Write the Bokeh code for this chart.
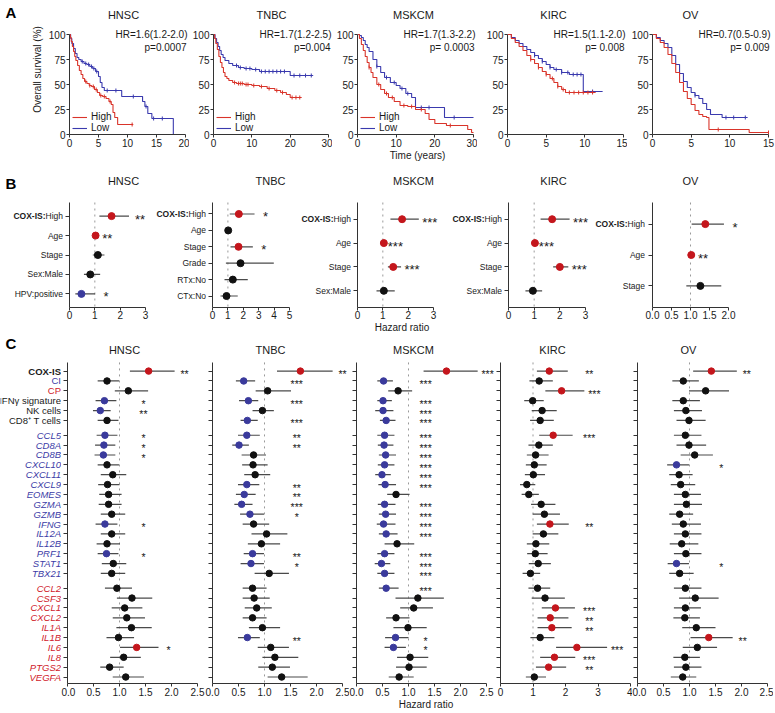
from bokeh.plotting import figure
from bokeh.layouts import row, column
from bokeh.models import (Range1d, Label, FixedTicker, Legend, LegendItem,
                          NumeralTickFormatter)
from bokeh.core.properties import value
from bokeh.embed import file_html
from bokeh.resources import INLINE

# ======================= DATA =======================
cancers = ["HNSC", "TNBC", "MSKCM", "KIRC", "OV"]

# ---- Panel A : Kaplan-Meier curves (time in years, survival in %) ----
km_time_max = [20, 30, 30, 15, 15]
km_ticks = [[0, 5, 10, 15, 20], [0, 10, 20, 30], [0, 10, 20, 30],
            [0, 5, 10, 15], [0, 5, 10, 15]]
km_surv_ticks = [0, 25, 50, 75, 100]
km_hr_text = ["HR=1.6(1.2-2.0)", "HR=1.7(1.2-2.5)", "HR=1.7(1.3-2.2)",
              "HR=1.5(1.1-2.0)", "HR=0.7(0.5-0.9)"]
km_p_text = ["p=0.0007", "p=0.004", "p= 0.0003", "p= 0.008", "p= 0.009"]

hnsc_high_t = [0, 0.15, 0.3, 0.5, 0.7, 0.9, 1.1, 1.4, 1.7, 2.0, 2.3, 2.6, 3.0, 3.4,
               3.8, 4.3, 4.8, 5.2, 5.7, 6.3, 6.8, 7.2, 7.5, 7.8, 8.3, 11.0]
hnsc_high_s = [100, 97, 93, 88, 83, 78, 74, 69, 64, 60, 56, 53, 51, 49,
               48, 45, 42, 39, 38, 36, 33, 30, 22, 17, 10, 10]
hnsc_high_cens = [2.8, 3.5, 4.1, 4.6, 5.4, 6.0, 7.0, 10.8]
hnsc_low_t = [0, 0.2, 0.4, 0.7, 1.0, 1.3, 1.6, 2.0, 2.5, 3.0, 3.5, 4.0, 4.5, 5.0,
              5.3, 5.6, 6.0, 9.0, 12.6, 13.0, 13.5, 14.2, 17.9]
hnsc_low_s = [100, 96, 91, 86, 81, 77, 75, 73, 71, 70, 68, 66, 63, 58,
              52, 47, 44, 38, 33, 28, 21, 16, 0]
hnsc_low_cens = [2.2, 2.8, 3.3, 3.8, 4.2, 4.7, 6.5, 8.0, 11.0, 13.2, 14.5, 16.0]

tnbc_high_t = [0, 0.3, 0.6, 1.0, 1.4, 1.8, 2.2, 2.6, 3.0, 3.5, 4.0, 5.0, 6.0, 8.0,
               10.0, 12.0, 14.0, 16.0, 17.5, 19.0, 20.0, 23.0]
tnbc_high_s = [100, 96, 91, 85, 78, 72, 67, 62, 58, 56, 54, 52, 51, 50,
               49, 48, 46, 44, 42, 40, 37, 37]
tnbc_high_cens = [5.5, 6.5, 7.0, 7.5, 8.5, 9.0, 10.5, 12.5, 14.5, 16.5, 18.0,
                  20.5, 21.5, 22.5]
tnbc_low_t = [0, 0.4, 0.8, 1.2, 1.6, 2.0, 2.5, 3.0, 4.0, 5.0, 6.5, 8.0, 10.0,
              12.0, 16.0, 20.0, 26.0]
tnbc_low_s = [100, 96, 92, 88, 84, 80, 77, 74, 71, 69, 67, 66, 65,
              63, 63, 59, 59]
tnbc_low_cens = [6.0, 7.0, 8.5, 9.5, 11.0, 12.5, 13.5, 14.5, 15.5, 16.5, 17.5,
                 18.5, 21.0, 22.5, 24.0, 25.5]

mskcm_high_t = [0, 0.5, 1.0, 1.5, 2.0, 2.5, 3.0, 3.5, 4.0, 5.0, 6.0, 7.0, 8.0, 9.5,
                11.0, 13.0, 15.0, 17.5, 18.5, 20.0, 23.0, 26.0, 28.5, 29.5, 30.0]
mskcm_high_s = [100, 96, 90, 84, 78, 72, 67, 62, 57, 50, 45, 41, 37, 33,
                29, 28, 25, 21, 15, 11, 9, 9, 5, 2, 2]
mskcm_high_cens = [3.0, 5.5, 7.5, 9.0, 12.0, 14.0, 16.5, 24.0]
mskcm_low_t = [0, 0.5, 1.0, 1.5, 2.0, 2.5, 3.0, 4.0, 5.0, 6.0, 7.0, 8.5, 10.0,
               11.0, 12.5, 14.0, 15.0, 22.5, 30.0]
mskcm_low_s = [100, 99, 97, 94, 90, 87, 83, 75, 68, 62, 57, 52, 49,
               46, 41, 37, 27, 17, 17]
mskcm_low_cens = [5.0, 7.5, 9.5, 11.5, 13.0, 16.5, 18.5, 25.0]

kirc_high_t = [0, 0.5, 1.0, 1.5, 2.0, 2.5, 3.0, 3.5, 4.0, 4.5, 5.0, 5.5, 6.0, 6.5,
               7.0, 7.5, 11.4]
kirc_high_s = [100, 96, 92, 88, 84, 79, 75, 71, 67, 63, 60, 56, 52, 48,
               45, 42, 42]
kirc_high_cens = [3.0, 4.0, 5.0, 5.8, 6.5, 7.2, 8.0, 8.6, 9.2, 9.8, 10.4, 11.0]
kirc_low_t = [0, 0.5, 1.0, 1.5, 2.0, 2.5, 3.0, 3.5, 4.0, 4.5, 5.0, 5.5, 6.0, 7.0,
              8.0, 9.8, 12.3]
kirc_low_s = [100, 97, 94, 91, 88, 85, 82, 79, 76, 73, 70, 67, 65, 62,
              60, 43, 43]
kirc_low_cens = [3.5, 4.5, 5.5, 6.3, 7.0, 7.8, 8.5, 9.0, 9.5, 11.0]

ov_high_t = [0, 0.5, 1.0, 1.5, 2.0, 2.5, 3.0, 3.5, 4.0, 4.5, 5.0, 5.5, 6.0, 6.5,
             7.0, 7.3, 12.5, 15.0]
ov_high_s = [100, 96, 92, 87, 80, 71, 62, 52, 43, 36, 30, 24, 20, 18,
             17, 5, 2, 2]
ov_high_cens = [8.5, 15.0]
ov_low_t = [0, 0.5, 1.0, 1.5, 2.0, 2.5, 3.0, 3.5, 4.0, 4.5, 5.0, 5.5, 6.0, 6.5,
            7.0, 7.5, 9.0, 12.3]
ov_low_s = [100, 97, 94, 91, 87, 79, 70, 61, 53, 47, 42, 39, 36, 31,
            25, 20, 17, 17]
ov_low_cens = [5.5, 9.5, 10.5, 12.0]

# ---- Panel B : multivariable Cox models ----
b_hnsc_vars = ["COX-IS:High", "Age", "Stage", "Sex:Male", "HPV:positive"]
b_hnsc_hr = [1.66, 1.03, 1.12, 0.82, 0.47]
b_hnsc_lo = [1.18, 1.00, 0.92, 0.57, 0.23]
b_hnsc_hi = [2.35, 1.06, 1.38, 1.21, 1.01]
b_hnsc_sig = ["**", "**", "", "", "*"]

b_tnbc_vars = ["COX-IS:High", "Age", "Stage", "Grade", "RTx:No", "CTx:No"]
b_tnbc_hr = [1.71, 1.02, 1.69, 1.82, 1.32, 0.91]
b_tnbc_lo = [1.12, 0.99, 1.17, 0.87, 0.78, 0.52]
b_tnbc_hi = [2.73, 1.05, 2.62, 3.98, 2.29, 1.64]
b_tnbc_sig = ["*", "", "*", "", "", ""]

b_mskcm_vars = ["COX-IS:High", "Age", "Stage", "Sex:Male"]
b_mskcm_hr = [1.76, 1.04, 1.41, 1.04]
b_mskcm_lo = [1.30, 1.02, 1.20, 0.75]
b_mskcm_hi = [2.42, 1.06, 1.72, 1.47]
b_mskcm_sig = ["***", "***", "***", ""]

b_kirc_vars = ["COX-IS:High", "Age", "Stage", "Sex:Male"]
b_kirc_hr = [1.70, 1.03, 2.00, 0.95]
b_kirc_lo = [1.25, 1.01, 1.74, 0.66]
b_kirc_hi = [2.38, 1.05, 2.33, 1.31]
b_kirc_sig = ["***", "***", "***", ""]

b_ov_vars = ["COX-IS:High", "Age", "Stage"]
b_ov_hr = [1.39, 1.02, 1.26]
b_ov_lo = [1.03, 1.00, 0.89]
b_ov_hi = [1.88, 1.04, 1.81]
b_ov_sig = ["*", "**", ""]

b_ticks = [[0, 1, 2, 3], [0, 1, 2, 3, 4, 5], [0, 1, 2, 3], [0, 1, 2, 3],
           [0, 0.5, 1.0, 1.5, 2.0]]

# ---- Panel C : univariable Cox, signatures and genes ----
c_signatures = ["COX-IS", "CI", "CP", "IFNγ signature", "NK cells", "CD8⁺ T cells"]
c_immune_genes = ["CCL5", "CD8A", "CD8B", "CXCL10", "CXCL11", "CXCL9", "EOMES", "GZMA",
                  "GZMB", "IFNG", "IL12A", "IL12B", "PRF1", "STAT1", "TBX21"]
c_inflam_genes = ["CCL2", "CSF3", "CXCL1", "CXCL2", "IL1A", "IL1B", "IL6", "IL8",
                  "PTGS2", "VEGFA"]

c_hnsc_hr = [1.56, 0.76, 1.17, 0.71, 0.63, 0.76,
             0.72, 0.70, 0.69, 0.76, 0.87, 0.77, 0.79, 0.79, 0.85, 0.72, 0.85, 0.76, 0.75, 0.88, 0.85,
             0.95, 1.24, 1.10, 1.14, 1.23, 0.98, 1.33, 1.08, 0.81, 1.12]
c_hnsc_lo = [1.20, 0.58, 0.91, 0.54, 0.49, 0.58,
             0.56, 0.53, 0.52, 0.58, 0.64, 0.59, 0.61, 0.60, 0.64, 0.54, 0.64, 0.56, 0.58, 0.66, 0.64,
             0.72, 0.95, 0.85, 0.87, 0.94, 0.75, 1.01, 0.82, 0.63, 0.87]
c_hnsc_hi = [2.06, 0.99, 1.55, 0.94, 0.83, 0.98,
             0.96, 0.92, 0.92, 0.99, 1.13, 1.00, 1.04, 1.04, 1.11, 0.96, 1.11, 1.01, 0.98, 1.13, 1.11,
             1.24, 1.63, 1.44, 1.49, 1.62, 1.28, 1.75, 1.41, 1.08, 1.47]
c_hnsc_sig = ["**", "", "", "*", "**", "",
              "*", "*", "*", "", "", "", "", "", "", "*", "", "", "*", "", "",
              "", "", "", "", "", "", "*", "", "", ""]

c_tnbc_hr = [1.69, 0.60, 1.06, 0.69, 0.96, 0.67,
             0.66, 0.51, 0.79, 0.78, 0.82, 0.66, 0.61, 0.56, 0.72, 0.79, 1.04, 0.94, 0.77, 0.74, 1.09,
             0.77, 0.80, 0.85, 0.77, 0.96, 0.67, 1.12, 1.20, 1.15, 1.33]
c_tnbc_lo = [1.24, 0.45, 0.83, 0.51, 0.77, 0.54,
             0.49, 0.38, 0.56, 0.57, 0.61, 0.49, 0.45, 0.42, 0.53, 0.58, 0.75, 0.68, 0.60, 0.54, 0.81,
             0.58, 0.58, 0.62, 0.58, 0.70, 0.49, 0.87, 0.96, 0.88, 1.06]
c_tnbc_hi = [2.31, 0.82, 1.51, 0.88, 1.18, 0.87,
             0.91, 0.70, 1.03, 1.06, 1.11, 0.90, 0.83, 0.77, 0.99, 1.09, 1.44, 1.30, 0.99, 0.99, 1.47,
             1.04, 1.10, 1.14, 1.04, 1.30, 0.91, 1.47, 1.65, 1.49, 1.83]
c_tnbc_sig = ["**", "***", "", "***", "", "***",
              "**", "**", "", "", "", "**", "**", "***", "*", "", "", "", "**", "*", "",
              "", "", "", "", "", "**", "", "", "", ""]

c_mskcm_hr = [1.73, 0.52, 0.80, 0.51, 0.51, 0.57,
              0.54, 0.53, 0.56, 0.54, 0.49, 0.55, 0.76, 0.54, 0.56, 0.52, 0.57, 0.78, 0.54, 0.48, 0.54,
              0.57, 1.18, 1.10, 0.76, 0.99, 0.75, 0.71, 1.03, 1.01, 0.82]
c_mskcm_lo = [1.29, 0.40, 0.61, 0.40, 0.36, 0.45,
              0.40, 0.41, 0.43, 0.41, 0.36, 0.42, 0.59, 0.41, 0.43, 0.39, 0.43, 0.54, 0.40, 0.35, 0.40,
              0.43, 0.75, 0.84, 0.57, 0.71, 0.55, 0.54, 0.78, 0.76, 0.62]
c_mskcm_hi = [2.33, 0.70, 1.07, 0.68, 0.71, 0.75,
              0.73, 0.71, 0.76, 0.73, 0.66, 0.76, 1.02, 0.75, 0.76, 0.75, 0.79, 1.11, 0.73, 0.65, 0.73,
              0.81, 1.68, 1.47, 1.02, 1.35, 1.00, 0.95, 1.38, 1.35, 1.10]
c_mskcm_sig = ["***", "***", "", "***", "***", "***",
               "***", "***", "***", "***", "***", "***", "", "***", "***", "***", "***", "", "***", "***", "***",
               "***", "", "", "", "", "*", "*", "", "", ""]

c_kirc_hr = [1.50, 1.19, 1.88, 0.99, 1.28, 1.22,
             1.62, 1.18, 1.08, 1.04, 1.01, 0.81, 0.87, 1.25, 1.35, 1.52, 1.32, 1.09, 1.07, 1.16, 0.92,
             1.14, 1.37, 1.69, 1.53, 1.58, 1.22, 2.35, 1.66, 1.48, 1.04]
c_kirc_lo = [1.12, 0.89, 1.38, 0.73, 0.96, 0.91,
             1.19, 0.86, 0.81, 0.78, 0.75, 0.60, 0.65, 0.94, 0.99, 1.12, 0.99, 0.81, 0.82, 0.87, 0.68,
             0.86, 0.96, 1.27, 1.14, 1.14, 0.92, 1.71, 1.22, 1.09, 0.78]
c_kirc_hi = [2.07, 1.61, 2.58, 1.33, 1.73, 1.64,
             2.22, 1.61, 1.48, 1.42, 1.37, 1.07, 1.18, 1.69, 1.83, 2.10, 1.78, 1.50, 1.45, 1.55, 1.22,
             1.53, 1.98, 2.29, 2.09, 2.19, 1.66, 3.28, 2.30, 2.02, 1.40]
c_kirc_sig = ["**", "", "***", "", "", "",
              "***", "", "", "", "", "", "", "", "", "**", "", "", "", "", "",
              "", "", "***", "**", "**", "", "***", "***", "**", ""]

c_ov_hr = [1.42, 0.88, 1.31, 0.88, 0.93, 0.99,
           0.92, 0.99, 1.10, 0.75, 0.80, 0.83, 0.92, 0.94, 0.81, 0.88, 0.92, 0.85, 0.93, 0.75, 0.81,
           0.92, 1.11, 0.92, 0.91, 1.13, 1.37, 1.15, 0.91, 0.93, 0.87]
c_ov_lo = [1.07, 0.67, 0.99, 0.67, 0.70, 0.75,
           0.70, 0.75, 0.83, 0.57, 0.61, 0.64, 0.70, 0.70, 0.61, 0.66, 0.70, 0.62, 0.70, 0.58, 0.61,
           0.70, 0.80, 0.70, 0.69, 0.86, 1.02, 0.87, 0.69, 0.70, 0.64]
c_ov_hi = [1.91, 1.18, 1.76, 1.20, 1.24, 1.31,
           1.23, 1.32, 1.45, 0.99, 1.06, 1.11, 1.22, 1.24, 1.07, 1.22, 1.23, 1.17, 1.23, 0.99, 1.08,
           1.23, 1.56, 1.22, 1.20, 1.50, 1.83, 1.53, 1.20, 1.23, 1.13]
c_ov_sig = ["**", "", "", "", "", "",
            "", "", "", "*", "", "", "", "", "", "", "", "", "", "*", "",
            "", "", "", "", "", "**", "", "", "", ""]

c_ticks = [[0, 0.5, 1.0, 1.5, 2.0, 2.5], [0, 0.5, 1.0, 1.5, 2.0, 2.5],
           [0, 0.5, 1.0, 1.5, 2.0, 2.5], [0, 1, 2, 3, 4], [0, 0.5, 1.0, 1.5, 2.0, 2.5]]

# ======================= STYLE =======================
FONT = "Liberation Sans"
TXT = "#1a1a1a"
AXC = "#333333"
KM_RED = "#d9342a"
KM_BLUE = "#3a3aae"
DOT_RED = "#c4161c"
DOT_BLUE = "#3a3a9c"
DOT_BLACK = "#111111"
LBL_BLUE = "#3c3ca6"
LBL_RED = "#d0202a"
CI_COL = "#4a4a4a"
DOT_LINE = "#9a9a9a"


def make_fig(left, frame_w, right, top, frame_h, bottom, xr, yr, axes=True):
    kw = {}
    if not axes:
        kw = dict(x_axis_type=None, y_axis_type=None)
    p = figure(width=left + frame_w + right, height=top + frame_h + bottom,
               x_range=xr, y_range=yr, toolbar_location=None, tools="",
               output_backend="svg", min_border=0, min_border_left=left,
               min_border_right=right, min_border_top=top, min_border_bottom=bottom, **kw)
    p.title = None
    p.outline_line_color = None
    if axes:
        p.xgrid.visible = False
        p.ygrid.visible = False
    return p


def style_axis(ax, size="10px", tick_out=3, standoff=1):
    ax.axis_line_color = AXC
    ax.axis_line_width = 1
    ax.major_tick_line_color = AXC
    ax.major_tick_out = tick_out
    ax.major_tick_in = 0
    ax.minor_tick_line_color = None
    ax.major_label_text_font = FONT
    ax.major_label_text_font_size = size
    ax.major_label_text_color = TXT
    ax.major_label_standoff = standoff
    ax.axis_label_text_font = FONT
    ax.axis_label_text_font_size = "10px"
    ax.axis_label_text_font_style = "normal"
    ax.axis_label_text_color = TXT


def add_label(p, x, y, text, size="10px", align="right", style="normal", color=TXT):
    # x in px from the frame's left edge, y in data units
    p.add_layout(Label(x=x, y=y, x_units="screen", y_units="data", text=text,
                       text_font=FONT, text_font_size=size, text_color=color,
                       text_font_style=style, text_align=align, text_baseline="middle"))


def sig_colour(hr, s):
    if not s:
        return DOT_BLACK
    return DOT_RED if hr > 1 else DOT_BLUE


def surv_at(ts, ss, t):
    s = ss[0]
    for tk, sk in zip(ts, ss):
        if tk <= t:
            s = sk
    return s


# ======================= PANEL A =======================
km_sets = [(hnsc_high_t, hnsc_high_s, hnsc_high_cens, hnsc_low_t, hnsc_low_s, hnsc_low_cens),
           (tnbc_high_t, tnbc_high_s, tnbc_high_cens, tnbc_low_t, tnbc_low_s, tnbc_low_cens),
           (mskcm_high_t, mskcm_high_s, mskcm_high_cens, mskcm_low_t, mskcm_low_s, mskcm_low_cens),
           (kirc_high_t, kirc_high_s, kirc_high_cens, kirc_low_t, kirc_low_s, kirc_low_cens),
           (ov_high_t, ov_high_s, ov_high_cens, ov_low_t, ov_low_s, ov_low_cens)]
# row A: frame spans page y 4..134, 1 px per % (0 at y=134)
A_TOP, A_FH, A_BOT = 4, 130, 30
A_ZERO = 134
A_LETTER_W = 20
A_LEFT = [49, 23, 25, 30, 25]
A_AXW, A_FW = 116, 120
A_TITLE_PAGE_X = [123, 270, 413, 553, 690]


def a_y(page_y):
    return A_ZERO - page_y


row_a = []
lf = make_fig(0, A_LETTER_W, 0, A_TOP, A_FH, A_BOT, Range1d(0, A_LETTER_W),
              Range1d(0, A_FH), axes=False)
lf.text(x=[5], y=[a_y(12)], text=["A"], text_align="left", text_baseline="middle",
        text_font=value(FONT), text_font_size=value("15px"),
        text_font_style=value("bold"), text_color="#000000")
row_a.append(lf)
xc = A_LETTER_W
for i, name in enumerate(cancers):
    xmax = km_time_max[i]
    p = make_fig(A_LEFT[i], A_FW, 3 if i == 4 else 0, A_TOP, A_FH, A_BOT,
                 Range1d(0, xmax * A_FW / A_AXW), Range1d(0, A_FH))
    p.xaxis.ticker = FixedTicker(ticks=km_ticks[i])
    p.xaxis.bounds = (0, xmax)
    p.yaxis.ticker = FixedTicker(ticks=km_surv_ticks)
    p.yaxis.bounds = (0, 100)
    style_axis(p.xaxis[0], "10px", 3, 1)
    style_axis(p.yaxis[0], "10px", 3, 1)
    ht, hs, hc, lt, ls, lc = km_sets[i]
    r_low = p.step(lt, ls, mode="after", line_color=KM_BLUE, line_width=1.1)
    p.scatter(x=lc, y=[surv_at(lt, ls, t) for t in lc], marker="dash", angle=1.5708,
              size=4, line_color=KM_BLUE, line_width=1)
    r_high = p.step(ht, hs, mode="after", line_color=KM_RED, line_width=1.1)
    p.scatter(x=hc, y=[surv_at(ht, hs, t) for t in hc], marker="dash", angle=1.5708,
              size=4, line_color=KM_RED, line_width=1)
    if i < 3:
        leg = Legend(items=[LegendItem(label="High", renderers=[r_high]),
                            LegendItem(label="Low", renderers=[r_low])],
                     location=(3, 1), orientation="vertical")
        leg.label_text_font = FONT
        leg.label_text_font_size = "10px"
        leg.label_text_color = TXT
        leg.glyph_width = 15
        leg.glyph_height = 10
        leg.label_height = 10
        leg.label_standoff = 4
        leg.spacing = 0
        leg.padding = 0
        leg.margin = 0
        leg.border_line_color = None
        leg.background_fill_alpha = 0
        p.add_layout(leg)
    frame_left = xc + A_LEFT[i]
    add_label(p, A_TITLE_PAGE_X[i] - frame_left, a_y(14), name, size="11px", align="center")
    add_label(p, A_AXW + 2, a_y(34), km_hr_text[i])
    add_label(p, A_AXW + 1, a_y(47), km_p_text[i])
    if i == 0:
        p.yaxis.axis_label = "Overall survival (%)"
        p.yaxis.axis_label_standoff = 3
    if i == 2:
        p.xaxis.axis_label = "Time (years)"
        p.xaxis.axis_label_standoff = 0
    row_a.append(p)
    xc += A_LEFT[i] + A_FW

# ======================= PANEL B =======================
b_sets = [(b_hnsc_vars, b_hnsc_hr, b_hnsc_lo, b_hnsc_hi, b_hnsc_sig),
          (b_tnbc_vars, b_tnbc_hr, b_tnbc_lo, b_tnbc_hi, b_tnbc_sig),
          (b_mskcm_vars, b_mskcm_hr, b_mskcm_lo, b_mskcm_hi, b_mskcm_sig),
          (b_kirc_vars, b_kirc_hr, b_kirc_lo, b_kirc_hi, b_kirc_sig),
          (b_ov_vars, b_ov_hr, b_ov_lo, b_ov_hi, b_ov_sig)]
# row B: page y 164..335 ; frame 172..307 ; variable axis from y=202 to y=307
B_ROW0 = 164
B_TOP, B_FH, B_BOT = 8, 135, 28
B_AX_TOP, B_AX_BOT = 202, 307
B_LAB_W = [63, 56, 57, 56, 53]
B_LEFT = [6, 6, 6, 6, 7]
B_FRAME = [81, 82, 89, 84, 121]
B_PPU = [76 / 3, 77 / 5, 76 / 3, 77 / 3, 38.0]
B_TITLE_PAGE_X = [123, 270, 413, 553, 690]
B_LBL_SIZE = 8.5
HIGH_W = 2.056 * B_LBL_SIZE
PREFIX = "COX-IS:"

row_b = []
xc = 0
for i, name in enumerate(cancers):
    vars_, hr, lo, hi, sig = b_sets[i]
    n = len(vars_)
    ys = list(range(n))
    step = (B_AX_BOT - B_AX_TOP) / (n + 0.4)

    def b_y(page_y, step=step):
        return -0.7 + (page_y - B_AX_TOP) / step

    yr_top = b_y(B_ROW0 + B_TOP)
    yr_bot = n - 0.3
    # ---- label strip ----
    lf = make_fig(0, B_LAB_W[i], 0, B_TOP, B_FH, B_BOT, Range1d(0, B_LAB_W[i]),
                  Range1d(yr_bot, yr_top), axes=False)
    tx, ty, tt, tst, tof = [], [], [], [], []
    for y, v in zip(ys, vars_):
        if v.startswith(PREFIX):
            tx += [B_LAB_W[i] - 0.5] * 2
            ty += [y, y]
            tt += [v[len(PREFIX):], PREFIX]
            tst += ["normal", "bold"]
            tof += [0, -HIGH_W]
        else:
            tx.append(B_LAB_W[i] - 0.5)
            ty.append(y)
            tt.append(v)
            tst.append("normal")
            tof.append(0)
    lf.text(x=tx, y=ty, text=tt, x_offset=tof, text_font_style=tst,
            text_align="right", text_baseline="middle", text_font=value(FONT),
            text_font_size=value(f"{B_LBL_SIZE}px"), text_color=TXT)
    if i == 0:
        lf.text(x=[5], y=[b_y(183)], text=["B"], text_align="left",
                text_baseline="middle", text_font=value(FONT),
                text_font_size=value("15px"), text_font_style=value("bold"),
                text_color="#000000")
    row_b.append(lf)
    xc += B_LAB_W[i]
    # ---- forest plot ----
    p = make_fig(B_LEFT[i], B_FRAME[i], 0, B_TOP, B_FH, B_BOT,
                 Range1d(0, B_FRAME[i] / B_PPU[i]), Range1d(yr_bot, yr_top))
    p.xaxis.ticker = FixedTicker(ticks=b_ticks[i])
    p.xaxis.bounds = (b_ticks[i][0], b_ticks[i][-1])
    if i == 4:
        p.xaxis.formatter = NumeralTickFormatter(format="0.0")
    p.yaxis.ticker = FixedTicker(ticks=ys)
    p.yaxis.bounds = (-0.7, n - 0.3)
    p.yaxis.major_label_overrides = {k: "" for k in ys}
    style_axis(p.xaxis[0], "10px", 3, 0)
    style_axis(p.yaxis[0], "8px", 4, 1)
    p.segment(x0=[1], y0=[-0.7], x1=[1], y1=[n - 0.3], line_color=DOT_LINE,
              line_dash="dotted", line_width=1)
    cols = [sig_colour(h, s) for h, s in zip(hr, sig)]
    p.segment(x0=lo, y0=ys, x1=hi, y1=ys, line_color=CI_COL, line_width=1.2)
    p.scatter(x=hr, y=ys, size=7, fill_color=cols, line_color=cols)
    sx = [h + 11 / B_PPU[i] for h, s in zip(hi, sig) if s]
    sy = [y for y, s in zip(ys, sig) if s]
    st = [s for s in sig if s]
    p.text(x=sx, y=sy, text=st, text_align="center", text_baseline="middle",
           text_font=value(FONT), text_font_size=value("13px"), text_color=TXT,
           y_offset=3)
    frame_left = xc + B_LEFT[i]
    add_label(p, B_TITLE_PAGE_X[i] - frame_left, b_y(180), name, size="11px", align="center")
    if i == 2:
        p.xaxis.axis_label = "Hazard ratio"
        p.xaxis.axis_label_standoff = 0
    row_b.append(p)
    xc += B_LEFT[i] + B_FRAME[i]

# ======================= PANEL C =======================
c_sets = [(c_hnsc_hr, c_hnsc_lo, c_hnsc_hi, c_hnsc_sig),
          (c_tnbc_hr, c_tnbc_lo, c_tnbc_hi, c_tnbc_sig),
          (c_mskcm_hr, c_mskcm_lo, c_mskcm_hi, c_mskcm_sig),
          (c_kirc_hr, c_kirc_lo, c_kirc_hi, c_kirc_sig),
          (c_ov_hr, c_ov_lo, c_ov_hi, c_ov_sig)]
c_labels = c_signatures + c_immune_genes + c_inflam_genes
GAP = 1.5
c_y = list(range(len(c_signatures)))
c_y += [c_y[-1] + GAP + k for k in range(len(c_immune_genes))]
c_y += [c_y[-1] + GAP + k for k in range(len(c_inflam_genes))]

# row C: page y 335..712 ; frame 337..684 ; first row at y=370.7, last at 677.5
C_ROW0 = 335
C_TOP, C_FH, C_BOT = 2, 347, 28
C_FIRST, C_LAST = 370.7, 677.5
C_STEP = (C_LAST - C_FIRST) / c_y[-1]
C_AX_TOP = 362


def c_yv(page_y):
    return (page_y - C_FIRST) / C_STEP


C_YTOP = c_yv(C_ROW0 + C_TOP)
C_YBOT = c_yv(C_ROW0 + C_TOP + C_FH)
C_LAB_W = 61
C_LEFT = [6, 7, 7, 5, 5]
C_FRAME = [138, 137, 139, 130, 136]
C_RIGHT = [0, 0, 0, 2, 0]
C_PPU = [52.0, 52.0, 52.0, 32.5, 52.0]
C_TITLE_PAGE_X = [124, 270, 413, 552, 688]
C_STAR_COL = [1.46, 1.62, 1.33, 2.73, 1.61]
sig_label_colour = {"CI": LBL_BLUE, "CP": LBL_RED}

row_c = []
lf = make_fig(0, C_LAB_W, 0, C_TOP, C_FH, C_BOT, Range1d(0, C_LAB_W),
              Range1d(C_YBOT, C_YTOP), axes=False)
l_style, l_col = [], []
for lab in c_labels:
    if lab in c_signatures:
        l_style.append("bold" if lab == "COX-IS" else "normal")
        l_col.append(sig_label_colour.get(lab, TXT))
    elif lab in c_immune_genes:
        l_style.append("italic")
        l_col.append(LBL_BLUE)
    else:
        l_style.append("italic")
        l_col.append(LBL_RED)
lf.text(x=[C_LAB_W - 0.5] * len(c_labels), y=c_y, text=c_labels,
        text_font_style=l_style, text_color=l_col, text_align="right",
        text_baseline="middle", text_font=value(FONT), text_font_size=value("9.5px"))
lf.text(x=[5], y=[c_yv(343)], text=["C"], text_align="left",
        text_baseline="middle", text_font=value(FONT), text_font_size=value("15px"),
        text_font_style=value("bold"), text_color="#000000")
row_c.append(lf)
xc = C_LAB_W
for i, name in enumerate(cancers):
    hr, lo, hi, sig = c_sets[i]
    p = make_fig(C_LEFT[i], C_FRAME[i], C_RIGHT[i], C_TOP, C_FH, C_BOT,
                 Range1d(0, C_FRAME[i] / C_PPU[i]), Range1d(C_YBOT, C_YTOP))
    p.xaxis.ticker = FixedTicker(ticks=c_ticks[i])
    p.xaxis.bounds = (c_ticks[i][0], c_ticks[i][-1])
    if i != 3:
        p.xaxis.formatter = NumeralTickFormatter(format="0.0")
    p.yaxis.ticker = FixedTicker(ticks=c_y)
    p.yaxis.bounds = (c_yv(C_AX_TOP), C_YBOT)
    p.yaxis.major_label_overrides = {k: "" for k in c_y}
    style_axis(p.xaxis[0], "10px", 3, 1)
    style_axis(p.yaxis[0], "8px", 4, 1)
    p.segment(x0=[1], y0=[c_yv(C_AX_TOP)], x1=[1], y1=[C_YBOT], line_color=DOT_LINE,
              line_dash="dotted", line_width=1)
    cols = [sig_colour(h, s) for h, s in zip(hr, sig)]
    p.segment(x0=lo, y0=c_y, x1=hi, y1=c_y, line_color=CI_COL, line_width=1.2)
    p.scatter(x=hr, y=c_y, size=6.5, fill_color=cols, line_color=cols)
    sx = [max(C_STAR_COL[i], h + 10 / C_PPU[i]) for h, s in zip(hi, sig) if s]
    sy = [y for y, s in zip(c_y, sig) if s]
    st = [s for s in sig if s]
    p.text(x=sx, y=sy, text=st, text_align="center", text_baseline="middle",
           text_font=value(FONT), text_font_size=value("10.5px"), text_color=TXT,
           y_offset=3)
    frame_left = xc + C_LEFT[i]
    add_label(p, C_TITLE_PAGE_X[i] - frame_left, c_yv(350), name, size="11px", align="center")
    if i == 2:
        p.xaxis.axis_label = "Hazard ratio"
        p.xaxis.axis_label_standoff = 0
    row_c.append(p)
    xc += C_LEFT[i] + C_FRAME[i] + C_RIGHT[i]

root = column(row(*row_a), row(*row_b), row(*row_c))
html = file_html(root, INLINE, title="COX-IS survival")
with open("out.html", "w") as f:
    f.write(html)
